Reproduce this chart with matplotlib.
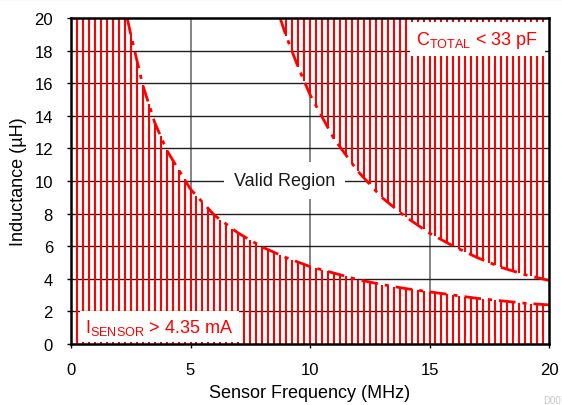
import numpy as np
import matplotlib
matplotlib.use("Agg")
import matplotlib.pyplot as plt
from matplotlib.lines import Line2D

plt.rcParams['font.family'] = ['Liberation Sans', 'DejaVu Sans']
plt.rcParams['mathtext.fontset'] = 'custom'
plt.rcParams['mathtext.rm'] = 'Liberation Sans'
plt.rcParams['mathtext.it'] = 'Liberation Sans'

# ---- data ----
# lower limit curve (I_SENSOR > 4.35 mA)
lower_f = [2.35, 2.5, 3, 3.5, 4, 5, 6, 7, 8, 9, 10, 11, 12, 13, 14, 15, 16, 17, 18, 19, 20]
lower_L = [20, 19.0, 15.9, 13.6, 11.9, 9.5, 7.9, 6.8, 5.95, 5.3, 4.75, 4.35, 3.95, 3.65,
           3.4, 3.2, 3.0, 2.8, 2.65, 2.5, 2.4]
# upper limit curve (C_TOTAL < 33 pF)
upper_f = [8.75, 9, 9.5, 10, 11, 12, 13, 14, 15, 16, 17, 18, 19, 20]
upper_L = [20, 18.9, 17.0, 15.3, 12.6, 10.6, 9.0, 7.8, 6.8, 6.0, 5.3, 4.7, 4.25, 3.9]

hatch_f = [0.25 * i for i in range(1, 80)]  # vertical hatch line positions (MHz)

x_ticks = [0, 5, 10, 15, 20]
y_ticks = [0, 2, 4, 6, 8, 10, 12, 14, 16, 18, 20]

RED = '#ff0000'

fig = plt.figure(figsize=(5.62, 4.06), dpi=100)
ax = fig.add_axes([71/562, 1-345/406, (549-71)/562, (345-19)/406])
ax.set_xlim(0, 20)
ax.set_ylim(0, 20)

# grid
for x in x_ticks[1:-1]:
    ax.axvline(x, color='#707070', lw=1.2, zorder=1)
for y in y_ticks[1:-1]:
    ax.axhline(y, color='#202020', lw=1.0, zorder=1)

# hatching: lower region
hf = np.array(hatch_f)
low_top = np.where(hf < lower_f[0], 20, np.interp(hf, lower_f, lower_L))
ax.vlines(hf, 0, low_top, colors=RED, lw=1.5, zorder=2)
# hatching: upper region
mask = hf >= upper_f[0]
up_bot = np.interp(hf[mask], upper_f, upper_L)
ax.vlines(hf[mask], up_bot, 20, colors=RED, lw=1.5, zorder=2)

# curves
ax.plot(lower_f, lower_L, color=RED, lw=2.0, dashes=(6, 2.5, 1.5, 2.5), zorder=3)
ax.plot(upper_f, upper_L, color=RED, lw=2.0, dashes=(6, 2.5, 1.5, 2.5), zorder=3)

# labels
ax.text(8.94, 10.03, 'Valid Region', ha='center', va='center', fontsize=13,
        color='#1a1a1a', zorder=5,
        bbox=dict(facecolor='white', edgecolor='none', pad=7))
ax.text(14.45, 18.7, r'C$_{\mathrm{TOTAL}}$ < 33 pF', ha='left', va='center', fontsize=13,
        color=RED, zorder=5,
        bbox=dict(facecolor='white', edgecolor='none', pad=4.5))
ax.text(0.6, 1.05, r'I$_{\mathrm{SENSOR}}$ > 4.35 mA', ha='left', va='center', fontsize=13,
        color=RED, zorder=5,
        bbox=dict(facecolor='white', edgecolor='none', pad=4))

ax.set_xticks(x_ticks)
ax.set_yticks(y_ticks)
ax.tick_params(direction='out', length=3, width=1, pad=10, labelsize=12, colors='black')
for s in ax.spines.values():
    s.set_linewidth(1.8)
    s.set_color('black')
    s.set_zorder(6)

ax.set_xlabel('Sensor Frequency (MHz)', fontsize=13, labelpad=5)
ax.set_ylabel('Inductance (µH)', fontsize=13, labelpad=5)

fig.text(543/562, 1-401/406, 'D007', fontsize=7, color='#c8c8c8', ha='left', va='center')
fig.add_artist(Line2D([0, 1], [0.999, 0.999], color='#999999', lw=1.5, transform=fig.transFigure))

fig.savefig('out.png', dpi=100)
